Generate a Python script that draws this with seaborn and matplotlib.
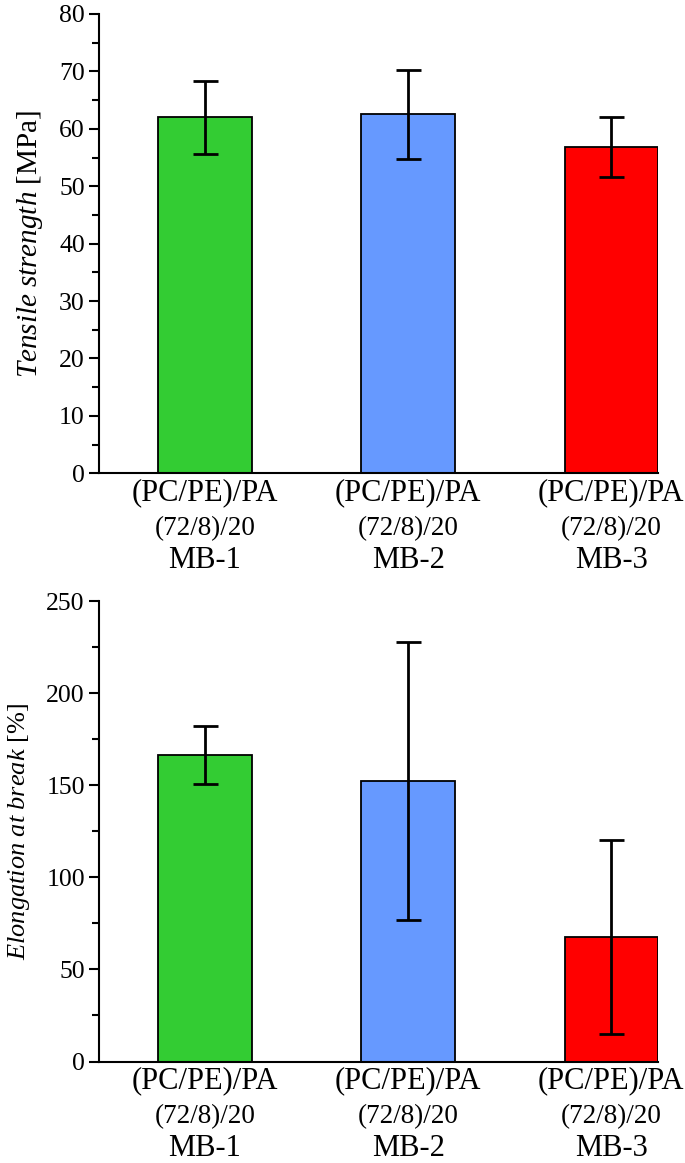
import numpy as np
import pandas as pd
import matplotlib
matplotlib.use("Agg")
import matplotlib.pyplot as plt
import seaborn as sns

# Sample names, blend composition and bar colours
samples = ["MB-1", "MB-2", "MB-3"]
blend_names = ["(PC/PE)/PA"] * 3
blend_ratios = ["(72/8)/20"] * 3
bar_colors = ["#33CC33", "#6699FF", "#FF0000"]

# Tensile strength [MPa]: mean and standard deviation
tensile_mean = [62.0, 62.5, 56.8]
tensile_sd = [6.3, 7.7, 5.2]

# Elongation at break [%]: mean and standard deviation
elong_mean = [166.6, 152.3, 67.8]
elong_sd = [15.8, 75.4, 52.7]

sns.set_theme(style="ticks")
plt.rcParams["font.family"] = ["Liberation Serif", "DejaVu Serif"]
plt.rcParams["mathtext.fontset"] = "custom"
plt.rcParams["mathtext.rm"] = "Liberation Serif"
plt.rcParams["mathtext.it"] = "Liberation Serif:italic"

W, H = 685, 1163
fig = plt.figure(figsize=(W / 100, H / 100), dpi=100)
ax1 = fig.add_axes([99 / W, 1 - 473.3 / H, (658 - 99) / W, (473.3 - 14) / H])
ax2 = fig.add_axes([99 / W, 1 - 1061.5 / H, (658 - 99) / W, (1061.5 - 601) / H])


def draw_panel(ax, means, sds, ylabel, ymax, major, label_x, label_size):
    df = pd.DataFrame({"sample": samples, "value": means})
    sns.barplot(data=df, x="sample", y="value", hue="sample", palette=bar_colors,
                legend=False, width=0.46, saturation=1, edgecolor="black",
                linewidth=1.3, ax=ax)
    ax.errorbar(np.arange(len(samples)), means, yerr=sds, fmt="none",
                ecolor="black", elinewidth=2, capsize=9, capthick=2, zorder=5)

    sns.despine(ax=ax)
    for side in ["left", "bottom"]:
        ax.spines[side].set_linewidth(1.5)
        ax.spines[side].set_color("black")

    ax.set_xlim(-0.522, 2.23)
    ax.set_ylim(0, ymax)
    ax.set_yticks(np.arange(0, ymax + 1, major))
    ax.set_yticks(np.arange(major / 2, ymax, major), minor=True)
    ax.tick_params(axis="y", which="major", length=7.2, width=1.5, colors="black",
                   labelsize=18.5, pad=3)
    ax.tick_params(axis="y", which="minor", length=5, width=1.5, colors="black")
    ax.set_xticks(range(len(samples)))
    ax.set_xticklabels(blend_names, fontsize=22)
    ax.tick_params(axis="x", length=0, pad=3.5, labelcolor="black")

    for i, (ratio, name) in enumerate(zip(blend_ratios, samples)):
        ax.annotate(ratio, xy=(i, 0), xycoords=("data", "axes fraction"),
                    xytext=(0, -40), textcoords="offset points",
                    ha="center", va="center", fontsize=19.5, color="black")
        ax.annotate(name, xy=(i, 0), xycoords=("data", "axes fraction"),
                    xytext=(0, -68), textcoords="offset points",
                    ha="center", va="baseline", fontsize=22, color="black")

    ax.set_xlabel("")
    ax.set_ylabel(ylabel, fontsize=label_size, color="black")
    ax.yaxis.set_label_coords(label_x, 0.5)


draw_panel(ax1, tensile_mean, tensile_sd,
           r"$\mathit{Tensile\ strength}$ [MPa]", 80, 10, -0.097, 21)
draw_panel(ax2, elong_mean, elong_sd,
           r"$\mathit{Elongation\ at\ break}$ [%]", 250, 50, -0.12, 19)

fig.savefig("out.png", dpi=100, facecolor="white")
